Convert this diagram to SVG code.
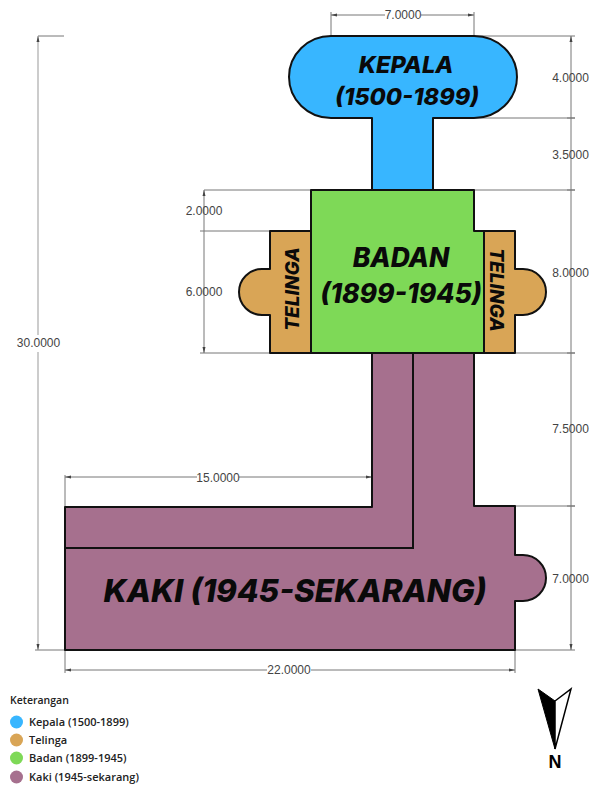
<svg xmlns="http://www.w3.org/2000/svg" width="597" height="785" viewBox="0 0 597 785">
<style>
.s{stroke:#111;stroke-width:2;stroke-linejoin:round}
.d{stroke:#777;stroke-width:1;fill:none}
.dt{font:12px "Liberation Sans",Arial,sans-serif;fill:#444;text-anchor:middle}
.l{font-family:Inter,"Open Sans",sans-serif;font-style:italic;font-weight:800;fill:#0a0a0a;text-anchor:middle}
.lg{font:600 11px "Open Sans","Noto Sans",sans-serif;fill:#222}
</style>
<rect width="597" height="785" fill="#fff"/>
<g id="connectors">
<path class="d" d="M331 12V36M474 12V36M331 15H385M421 15H474M474 36H575M474 118H575M474 190H575M204 190H311M200 231H270M200 353H270M474 353H575M474 506H575M515 650H575M515 650V673M65 650V673M65 475V507M65 477H197M239 477H372M372 475V507M65 670H267M311 670H515M38 36H64M35 650H65"/>
<path class="d" d="M571 36V650M204 190V353"/>
<path d="M38 36V335M38 352V650" fill="none" stroke="#999"/>
<path fill="#444" d="M331 15l6-1.500v3zM474 15l-6-1.500v3zM65 477l6-1.500v3zM372 477l-6-1.500v3zM65 670l6-1.500v3zM515 670l-6-1.500v3zM571 36l-1.500 6h3zM571 650l-1.500-6h3zM204 190l-1.500 6h3zM204 353l-1.500-6h3zM38 36l-1.500 6h3zM38 650l-1.500-6h3z"/>
<path class="d" d="M567 118H575M567 190H575M567 353H575M567 506H575"/>
</g>
<g id="kepala"><path class="s" fill="#38b6ff" d="M331 36H474A43 41 0 0 1 474 118H433V190H372V118H331A42 41 0 0 1 331 36Z"/><path d="M373 189H432" stroke="#38b6ff" stroke-width="2"/>
<text class="l" font-size="23.500" x="406" y="73">KEPALA</text><text class="l" font-size="23.500" x="407" y="105">(1500-1899)</text></g>
<g id="kaki"><path class="s" fill="#a6708e" d="M372 353H474V506H515V555H523A23 23 0 0 1 523 601H515V650H65V507H372Z"/><path d="M413 353V548H65" fill="none" stroke="#111" stroke-width="2"/>
<text class="l" font-size="31.500" x="295" y="602">KAKI (1945-SEKARANG)</text></g>
<g id="telinga-kiri"><path class="s" fill="#d9a556" d="M311 231H270V269H262A23 23 0 0 0 262 315H270V353H311Z"/><text class="l" font-size="19" transform="translate(299 289) rotate(-90)">TELINGA</text></g>
<g id="telinga-kanan"><path class="s" fill="#d9a556" d="M484 231H515V269H523A23 23 0 0 1 523 315H515V353H484Z"/><text class="l" font-size="19" transform="translate(490 290) rotate(90)">TELINGA</text></g>
<g id="badan"><path class="s" fill="#7ed957" d="M311 190H474V231H484V353H311Z"/>
<text class="l" font-size="26.500" x="401" y="267">BADAN</text><text class="l" font-size="26.500" x="401" y="303">(1899-1945)</text></g>
<g id="dimensi">
<text class="dt" x="403" y="19">7.0000</text>
<text class="dt" x="570.500" y="81.500">4.0000</text>
<text class="dt" x="570.500" y="158.500">3.5000</text>
<text class="dt" x="570.500" y="276.500">8.0000</text>
<text class="dt" x="570.500" y="433">7.5000</text>
<text class="dt" x="570.500" y="582.500">7.0000</text>
<text class="dt" x="204" y="214.500">2.0000</text>
<text class="dt" x="204" y="296">6.0000</text>
<text class="dt" x="38.500" y="347">30.0000</text>
<text class="dt" x="218" y="481.500">15.0000</text>
<text class="dt" x="289" y="674">22.0000</text>
</g>
<g id="legenda">
<text class="lg" x="10" y="704" style="font-size:10.500px">Keterangan</text>
<circle cx="16.500" cy="722" r="6.500" fill="#38b6ff"/><text class="lg" x="29" y="726">Kepala (1500-1899)</text>
<circle cx="16.500" cy="740" r="6.500" fill="#d9a556"/><text class="lg" x="29" y="744">Telinga</text>
<circle cx="16.500" cy="758" r="6.500" fill="#7ed957"/><text class="lg" x="29" y="762">Badan (1899-1945)</text>
<circle cx="16.500" cy="777" r="6.500" fill="#a6708e"/><text class="lg" x="29" y="781">Kaki (1945-sekarang)</text>
</g>
<g id="utara">
<path d="M538 689L555 701V749Z" fill="#000" stroke="#000"/>
<path d="M555 701L571 689L555 749Z" fill="#fff" stroke="#000" stroke-width="1.500"/>
<text x="555" y="768" text-anchor="middle" font-family="Liberation Sans,sans-serif" font-weight="700" font-size="18" fill="#000">N</text>
</g>
</svg>
